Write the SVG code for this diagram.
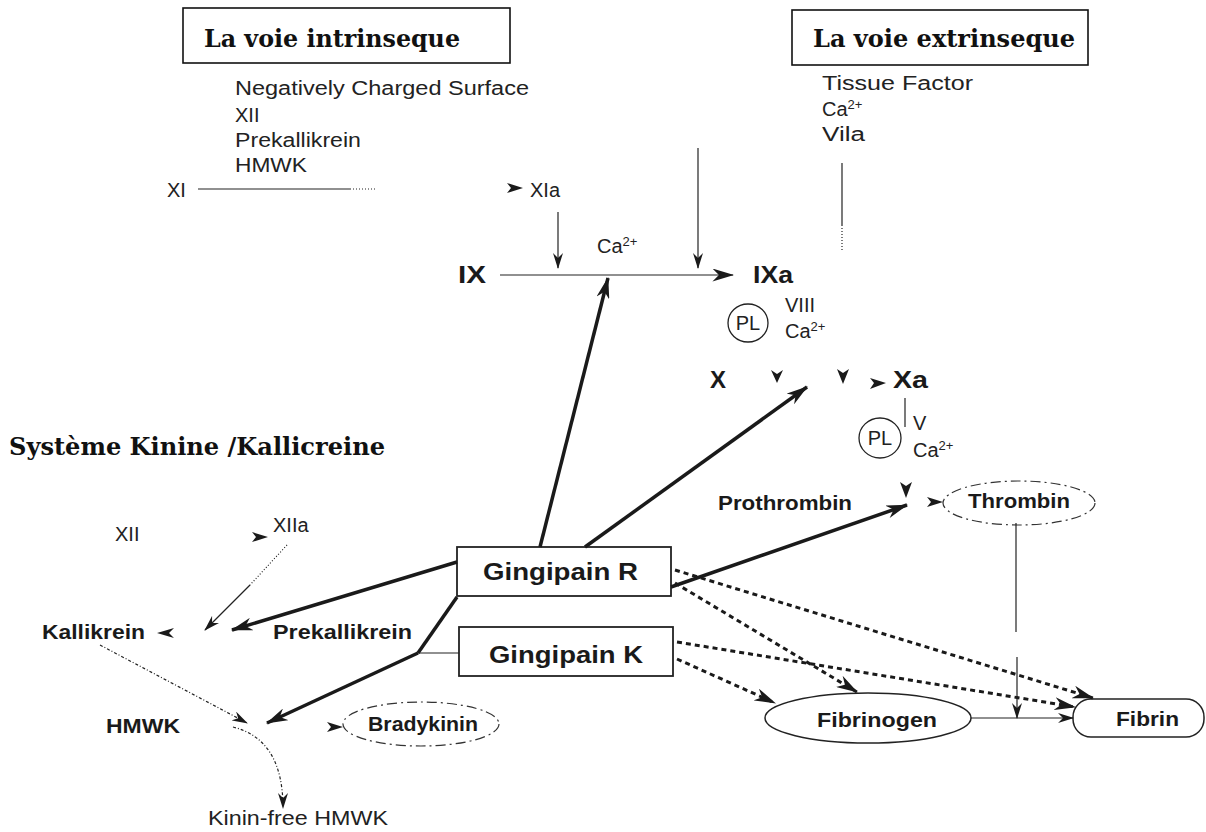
<svg xmlns="http://www.w3.org/2000/svg" width="1206" height="832" viewBox="0 0 1206 832">
<style>
.t{font-family:"Liberation Sans",Arial,sans-serif;font-size:20px;fill:#222}
.b{font-family:"Liberation Sans",Arial,sans-serif;font-size:20px;font-weight:bold;fill:#1a1a1a}
.g{font-family:"Liberation Sans",Arial,sans-serif;font-size:24px;font-weight:bold;fill:#1a1a1a}
.h{font-family:"DejaVu Serif","Liberation Serif",serif;font-size:24px;font-weight:bold;fill:#111}
.sup{font-size:13px}
.thin{fill:none;stroke:#222;stroke-width:1.2}
.thick{fill:none;stroke:#1a1a1a;stroke-width:3.5}
.dot{fill:none;stroke:#1a1a1a;stroke-width:3;stroke-dasharray:5 4}
.box{fill:#fff;stroke:#222;stroke-width:1.8}
.ah{fill:#1a1a1a}
</style>
<defs>
<marker id="big" viewBox="0 0 20 12" refX="19" refY="6" markerWidth="22" markerHeight="13" orient="auto" markerUnits="userSpaceOnUse"><path d="M0,0 L20,6 L0,12 L6,6 z" fill="#1a1a1a"/></marker>
<marker id="sm" viewBox="0 0 16 10" refX="15" refY="5" markerWidth="16" markerHeight="10" orient="auto" markerUnits="userSpaceOnUse"><path d="M0,0 L16,5 L0,10 L5,5 z" fill="#1a1a1a"/></marker>
</defs>
<rect width="1206" height="832" fill="#fff"/>

<g id="title-intrinseque">
<rect x="183" y="8" width="327" height="55" fill="none" stroke="#111" stroke-width="1.6"/>
<text class="h" x="204" y="47" textLength="256" lengthAdjust="spacingAndGlyphs">La voie intrinseque</text>
</g>
<g id="title-extrinseque">
<rect x="792" y="10" width="296" height="55" fill="none" stroke="#111" stroke-width="1.6"/>
<text class="h" x="813" y="47" textLength="262" lengthAdjust="spacingAndGlyphs">La voie extrinseque</text>
</g>
<g id="title-kinine">
<text class="h" x="9" y="455" textLength="376" lengthAdjust="spacingAndGlyphs">Système Kinine /Kallicreine</text>
</g>

<g id="intrinsic-factors">
<text class="t" x="235" y="95" textLength="294" lengthAdjust="spacingAndGlyphs">Negatively Charged Surface</text>
<text class="t" x="235" y="122">XII</text>
<text class="t" x="235" y="147" textLength="126" lengthAdjust="spacingAndGlyphs">Prekallikrein</text>
<text class="t" x="235" y="172" textLength="72" lengthAdjust="spacingAndGlyphs">HMWK</text>
</g>
<g id="node-XI"><text class="t" x="167" y="197">XI</text></g>
<g id="node-XIa"><text class="t" x="530" y="197">XIa</text></g>
<g id="extrinsic-factors">
<text class="t" x="822" y="90" textLength="151" lengthAdjust="spacingAndGlyphs">Tissue Factor</text>
<text class="t" x="822" y="116">Ca<tspan class="sup" dy="-7">2+</tspan></text>
<text class="t" x="822" y="141" textLength="43" lengthAdjust="spacingAndGlyphs">Vila</text>
</g>
<g id="ca-ix"><text class="t" x="597" y="253">Ca<tspan class="sup" dy="-7">2+</tspan></text></g>
<g id="node-IX"><text class="g" x="458" y="283" textLength="28" lengthAdjust="spacingAndGlyphs">IX</text></g>
<g id="node-IXa"><text class="g" x="753" y="283" textLength="40" lengthAdjust="spacingAndGlyphs">IXa</text></g>
<g id="pl1">
<ellipse cx="748" cy="323" rx="20" ry="19" fill="none" stroke="#222" stroke-width="1.3"/>
<text class="t" x="748" y="330" text-anchor="middle" font-size="18">PL</text>
<text class="t" x="785" y="312">VIII</text>
<text class="t" x="785" y="338">Ca<tspan class="sup" dy="-7">2+</tspan></text>
</g>
<g id="node-X"><text class="g" x="710" y="388">X</text></g>
<g id="node-Xa"><text class="g" x="893" y="388" textLength="35" lengthAdjust="spacingAndGlyphs">Xa</text></g>
<g id="pl2">
<ellipse cx="880" cy="438" rx="21" ry="20" fill="none" stroke="#222" stroke-width="1.3"/>
<text class="t" x="880" y="445" text-anchor="middle" font-size="18">PL</text>
<text class="t" x="913" y="430">V</text>
<text class="t" x="913" y="457">Ca<tspan class="sup" dy="-7">2+</tspan></text>
</g>
<g id="node-Prothrombin"><text class="b" x="718" y="510" textLength="134" lengthAdjust="spacingAndGlyphs">Prothrombin</text></g>
<g id="node-Thrombin">
<ellipse cx="1019" cy="503" rx="76" ry="22" fill="none" stroke="#333" stroke-width="1.2" stroke-dasharray="10 4 2 4"/>
<text class="b" x="968" y="508" textLength="102" lengthAdjust="spacingAndGlyphs">Thrombin</text>
</g>
<g id="node-GingipainR">
<rect class="box" x="457" y="547" width="214" height="49"/>
<text class="g" x="483" y="580" textLength="155" lengthAdjust="spacingAndGlyphs">Gingipain R</text>
</g>
<g id="node-GingipainK">
<rect class="box" x="459" y="627" width="214" height="49"/>
<text class="g" x="489" y="663" textLength="154" lengthAdjust="spacingAndGlyphs">Gingipain K</text>
</g>
<g id="node-Fibrinogen">
<ellipse cx="868" cy="718" rx="103" ry="25" fill="#fff" stroke="#222" stroke-width="1.5"/>
<text class="b" x="817" y="727" textLength="120" lengthAdjust="spacingAndGlyphs">Fibrinogen</text>
</g>
<g id="node-Fibrin">
<rect x="1073" y="699" width="131" height="38" rx="18" ry="18" fill="#fff" stroke="#222" stroke-width="1.5"/>
<text class="b" x="1116" y="726" textLength="63" lengthAdjust="spacingAndGlyphs">Fibrin</text>
</g>
<g id="node-XII-k"><text class="t" x="115" y="541">XII</text></g>
<g id="node-XIIa"><text class="t" x="273" y="532">XIIa</text></g>
<g id="node-Kallikrein"><text class="b" x="42" y="639" textLength="103" lengthAdjust="spacingAndGlyphs">Kallikrein</text></g>
<g id="node-Prekallikrein"><text class="b" x="273" y="639" textLength="139" lengthAdjust="spacingAndGlyphs">Prekallikrein</text></g>
<g id="node-HMWK"><text class="b" x="106" y="733" textLength="74" lengthAdjust="spacingAndGlyphs">HMWK</text></g>
<g id="node-Bradykinin">
<ellipse cx="421" cy="724" rx="78" ry="22" fill="none" stroke="#333" stroke-width="1.2" stroke-dasharray="10 4 2 4"/>
<text class="b" x="368" y="731" textLength="110" lengthAdjust="spacingAndGlyphs">Bradykinin</text>
</g>
<g id="node-KininFree"><text class="t" x="208" y="825" textLength="180" lengthAdjust="spacingAndGlyphs">Kinin-free HMWK</text></g>

<g id="connectors">
<line class="thin" x1="198" y1="189" x2="350" y2="189"/>
<line class="thin" x1="350" y1="189" x2="375" y2="189" stroke-dasharray="1 2"/>
<path class="ah" d="M507,183 L523,188 L507,193 L511,188 z"/>
<line class="thin" x1="558" y1="212" x2="558" y2="268" marker-end="url(#sm)"/>
<line class="thin" x1="698" y1="148" x2="698" y2="268" marker-end="url(#sm)"/>
<line class="thin" x1="500" y1="275" x2="733" y2="275" stroke-width="1.5" marker-end="url(#big)"/>
<line class="thin" x1="842" y1="163" x2="842" y2="225"/>
<line class="thin" x1="842" y1="225" x2="842" y2="250" stroke-dasharray="1 2"/>
<path class="ah" d="M771,370 L777,383 L783,370 L777,374 z"/>
<path class="ah" d="M837,369 L843,384 L849,369 L843,373 z"/>
<path class="ah" d="M870,378 L886,383 L870,389 L874,383 z"/>
<line class="thin" x1="905" y1="398" x2="905" y2="427"/>
<path class="ah" d="M900,482 L906,498 L912,482 L906,486 z"/>
<path class="ah" d="M927,497 L943,502 L927,507 L931,502 z"/>
<line class="thick" x1="540" y1="547" x2="608" y2="278" marker-end="url(#big)"/>
<line class="thick" x1="585" y1="547" x2="807" y2="387" marker-end="url(#big)"/>
<line class="thick" x1="671" y1="587" x2="907" y2="505" marker-end="url(#big)"/>
<line class="thick" x1="457" y1="562" x2="232" y2="630" marker-end="url(#big)"/>
<polyline class="thick" points="457,597 418,653" stroke-width="3"/>
<line class="thin" x1="418" y1="653" x2="459" y2="653" stroke-width="2"/>
<line class="thick" x1="418" y1="653" x2="267" y2="723" marker-end="url(#big)"/>
<line class="dot" x1="675" y1="570" x2="1093" y2="698" marker-end="url(#big)"/>
<line class="dot" x1="675" y1="583" x2="857" y2="692" marker-end="url(#big)"/>
<line class="dot" x1="677" y1="642" x2="1075" y2="707" marker-end="url(#big)"/>
<line class="dot" x1="677" y1="659" x2="775" y2="703" marker-end="url(#big)"/>
<line class="thin" x1="1016" y1="523" x2="1016" y2="632"/>
<line class="thin" x1="1017" y1="657" x2="1017" y2="718" marker-end="url(#sm)"/>
<line class="thin" x1="971" y1="718" x2="1073" y2="718" marker-end="url(#sm)"/>
<path class="ah" d="M252,532 L268,537 L252,542 L256,537 z"/>
<line class="thin" x1="287" y1="545" x2="250" y2="585" stroke-dasharray="1 2"/>
<line class="thin" x1="250" y1="585" x2="205" y2="630" marker-end="url(#sm)"/>
<path class="ah" d="M174,628 L157,633 L174,638 L169,633 z"/>
<line class="thin" x1="100" y1="645" x2="247" y2="723" stroke-dasharray="3 2 1 2" marker-end="url(#sm)"/>
<path class="thin" d="M233,727 C265,735 283,760 283,808" stroke-dasharray="3 2 1 2" marker-end="url(#sm)"/>
<path class="ah" d="M327,722 L343,727 L327,732 L331,727 z"/>
</g>
</svg>
